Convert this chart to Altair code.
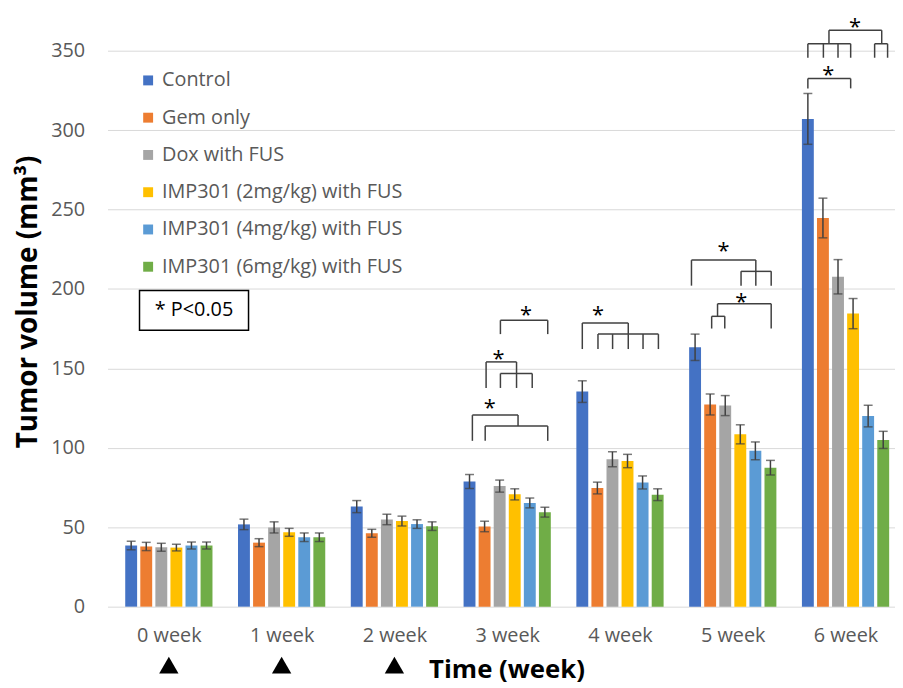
import json
import altair as alt
import pandas as pd

# ---------------- data ----------------
weeks = ["0 week", "1 week", "2 week", "3 week", "4 week", "5 week", "6 week"]
groups = ["Control", "Gem only", "Dox with FUS", "IMP301 (2mg/kg) with FUS",
          "IMP301 (4mg/kg) with FUS", "IMP301 (6mg/kg) with FUS"]
colors = ["#4472C4", "#ED7D31", "#A5A5A5", "#FFC000", "#5B9BD5", "#70AD47"]

control = [38.5, 51.8, 63.0, 78.8, 135.4, 163.3, 307.1]
gem = [37.9, 40.3, 46.2, 50.5, 74.7, 127.3, 244.7]
dox = [37.4, 49.9, 54.9, 75.9, 92.8, 126.6, 207.7]
imp2 = [37.2, 46.8, 53.9, 70.7, 91.7, 108.5, 184.5]
imp4 = [38.5, 43.7, 52.0, 65.3, 78.2, 98.1, 120.0]
imp6 = [38.5, 43.7, 50.7, 59.5, 70.5, 87.5, 105.0]

control_err = [2.7, 3.3, 3.8, 4.4, 6.8, 8.3, 16.0]
gem_err = [2.6, 2.5, 2.5, 3.3, 3.7, 6.6, 12.5]
dox_err = [2.5, 3.5, 3.3, 3.8, 4.7, 6.3, 10.8]
imp2_err = [2.1, 2.5, 3.1, 3.5, 4.2, 6.0, 9.5]
imp4_err = [2.2, 2.7, 2.7, 3.1, 4.1, 5.6, 6.8]
imp6_err = [2.2, 2.7, 2.7, 3.1, 3.7, 4.6, 5.4]

treatment_weeks = [0, 1, 2]          # FUS treatment markers (triangles)
p_label = "* P<0.05"

# significance brackets: (week, slot_from, slot_to, value_from, value_to)
# slot = bar index within the week group (0 = Control ... 5 = IMP301 6mg/kg)
bracket_segments = [
    # 3 week
    (3, 2.05, 5.19, 180.3, 180.3), (3, 2.05, 2.05, 180.3, 171.6), (3, 5.19, 5.19, 180.3, 171.6),
    (3, 1.10, 3.12, 154.1, 154.1), (3, 1.10, 1.10, 154.1, 137.7), (3, 3.12, 3.12, 154.1, 146.8),
    (3, 2.05, 4.16, 146.8, 146.8), (3, 2.05, 2.05, 146.8, 137.7), (3, 3.12, 3.12, 146.8, 137.7),
    (3, 4.16, 4.16, 146.8, 137.7),
    (3, 0.19, 3.22, 120.6, 120.6), (3, 0.19, 0.19, 120.6, 104.4), (3, 3.22, 3.22, 120.6, 113.7),
    (3, 1.04, 5.19, 113.7, 113.7), (3, 1.04, 1.04, 113.7, 104.4), (3, 5.19, 5.19, 113.7, 104.4),
    # 4 week
    (4, 0.00, 3.05, 178.6, 178.6), (4, 0.00, 0.00, 178.6, 162.2), (4, 3.05, 3.05, 178.6, 171.6),
    (4, 1.04, 5.05, 171.6, 171.6), (4, 1.04, 1.04, 171.6, 162.2), (4, 2.01, 2.01, 171.6, 162.2),
    (4, 3.05, 3.05, 171.6, 162.2), (4, 4.03, 4.03, 171.6, 162.2), (4, 5.05, 5.05, 171.6, 162.2),
    # 5 week
    (5, -0.24, 4.03, 218.2, 218.2), (5, -0.24, -0.24, 218.2, 202.1), (5, 4.03, 4.03, 218.2, 211.1),
    (5, 3.05, 5.05, 211.1, 211.1), (5, 3.05, 3.05, 211.1, 202.1), (5, 4.03, 4.03, 211.1, 202.1),
    (5, 5.05, 5.05, 211.1, 202.1),
    (5, 1.49, 5.05, 190.7, 190.7), (5, 5.05, 5.05, 190.7, 175.1), (5, 1.49, 1.49, 190.7, 182.8),
    (5, 1.10, 1.97, 182.8, 182.8), (5, 1.10, 1.10, 182.8, 175.1), (5, 1.97, 1.97, 182.8, 175.1),
    # 6 week
    (6, 1.40, 4.90, 362.9, 362.9), (6, 1.40, 1.40, 362.9, 354.4), (6, 4.90, 4.90, 362.9, 354.4),
    (6, 0.00, 2.84, 354.4, 354.4), (6, 0.00, 0.00, 354.4, 345.6), (6, 1.03, 1.03, 354.4, 345.6),
    (6, 2.00, 2.00, 354.4, 345.6), (6, 2.84, 2.84, 354.4, 345.6),
    (6, 4.43, 5.29, 354.4, 354.4), (6, 4.43, 4.43, 354.4, 345.6), (6, 5.29, 5.29, 354.4, 345.6),
    (6, 0.00, 2.84, 332.5, 332.5), (6, 0.00, 0.00, 332.5, 326.3), (6, 2.84, 2.84, 332.5, 326.3),
]
# stars: (week, slot, value)
star_marks = [
    (3, 3.74, 187.2), (3, 1.92, 159.1), (3, 1.34, 128.3),
    (4, 1.04, 187.2),
    (5, 1.88, 227.1), (5, 3.07, 195.5),
    (6, 3.13, 368.1), (6, 1.35, 338.3),
]

# ---------------- layout / style ----------------
FONT = "Open Sans"
GRAY_TXT = "#595959"
ERR = "#404040"
W, H = 794.6, 601
STEP_PX = 115.25
SLOT = 15.4 / STEP_PX      # bar spacing in week units
BAR_W = 12


def pos(week, slot):
    return week + (slot - 2.5) * SLOT


series = [control, gem, dox, imp2, imp4, imp6]
errs = [control_err, gem_err, dox_err, imp2_err, imp4_err, imp6_err]
rows = []
for gi, g in enumerate(groups):
    for wi in range(len(weeks)):
        v = series[gi][wi]
        e = errs[gi][wi]
        rows.append({"group": g, "week": wi, "pos": pos(wi, gi), "value": v,
                     "lo": v - e, "hi": v + e})
df = pd.DataFrame(rows)

seg_df = pd.DataFrame([{"x1": pos(w, a), "x2": pos(w, b), "y1": y1, "y2": y2}
                       for (w, a, b, y1, y2) in bracket_segments])
star_df = pd.DataFrame([{"x": pos(w, s), "y": v, "t": "*"} for (w, s, v) in star_marks])
tri_df = pd.DataFrame({"week": treatment_weeks})

xscale = alt.Scale(domain=[-0.5, (W / STEP_PX) - 0.5], nice=False, zero=False)
yscale = alt.Scale(domain=[0, 375], nice=False)

label_expr = json.dumps(weeks) + "[datum.value]"

xaxis = alt.Axis(values=list(range(len(weeks))), labelExpr=label_expr,
                 grid=False, domain=False, ticks=False,
                 labelFont=FONT, labelFontSize=20, labelColor=GRAY_TXT,
                 labelPadding=19,
                 title="Time (week)", titleFont=FONT, titleFontSize=26,
                 titleFontWeight="bold", titleColor="#000000",
                 titleX=402.6, titleY=71, titleBaseline="alphabetic")
yaxis = alt.Axis(values=list(range(0, 351, 50)), grid=True, gridColor="#D9D9D9",
                 gridWidth=1, domain=False, ticks=False,
                 labelFont=FONT, labelFontSize=20, labelColor=GRAY_TXT,
                 labelPadding=23,
                 title="Tumor volume (mm³)", titleFont=FONT, titleFontSize=28,
                 titleFontWeight="bold", titleColor="#000000",
                 titleX=-80, titleY=293, titleBaseline="middle")


def X(field):
    return alt.X(field, scale=xscale, axis=xaxis)


def Y(field):
    return alt.Y(field, scale=yscale, axis=yaxis)


base = alt.Chart(df)

bars = base.mark_bar(orient="vertical", size=BAR_W).encode(
    x=X("pos:Q"),
    y=Y("value:Q"),
    color=alt.Color("group:N", scale=alt.Scale(domain=groups, range=colors),
                    legend=alt.Legend(orient="none", legendX=31, legendY=60, title=None,
                                      symbolType="square", symbolSize=100,
                                      symbolStrokeWidth=0, labelFont=FONT,
                                      labelFontSize=20, labelColor=GRAY_TXT,
                                      rowPadding=17.6, labelOffset=4, padding=0,
                                      labelLimit=400)),
)

err_rule = base.mark_rule(color=ERR, strokeWidth=1.5).encode(
    x=X("pos:Q"), y=Y("lo:Q"), y2="hi:Q")
cap_hi = base.mark_tick(orient="horizontal", size=9, thickness=1.5, color=ERR).encode(
    x=X("pos:Q"), y=Y("hi:Q"))
cap_lo = base.mark_tick(orient="horizontal", size=9, thickness=1.5, color=ERR).encode(
    x=X("pos:Q"), y=Y("lo:Q"))

brackets = alt.Chart(seg_df).mark_rule(color="#404040", strokeWidth=1.5).encode(
    x=X("x1:Q"), x2="x2:Q", y=Y("y1:Q"), y2="y2:Q")

stars = alt.Chart(star_df).mark_text(fontSize=22, font=FONT, color="#000000",
                                     baseline="alphabetic", dy=12.5).encode(
    x=X("x:Q"), y=Y("y:Q"), text="t:N")

triangles = alt.Chart(tri_df).mark_point(shape="triangle-up", filled=True, size=380,
                                         color="#000000", opacity=1, strokeWidth=0).encode(
    x=X("week:Q"), y=alt.value(660))

pbox_df = pd.DataFrame({"t": [p_label]})
pbox = alt.Chart(pbox_df).mark_rect(fill="white", stroke="#000000", strokeWidth=1.5).encode(
    x=alt.value(32.3), x2=alt.value(142.3), y=alt.value(282), y2=alt.value(322))
ptext = alt.Chart(pbox_df).mark_text(font=FONT, fontSize=20, color="#000000",
                                     align="center", baseline="middle").encode(
    x=alt.value(87.3), y=alt.value(302), text="t:N")

chart = alt.layer(bars, err_rule, cap_hi, cap_lo, brackets, stars, triangles, pbox, ptext).properties(
    width=W, height=H,
    autosize=alt.AutoSizeParams(type="none"),
    padding={"left": 100.4, "top": 0, "right": 0, "bottom": 79},
    background="white",
).configure_view(stroke=None)

chart.save("out.html", embed_options={"renderer": "svg", "actions": False})
